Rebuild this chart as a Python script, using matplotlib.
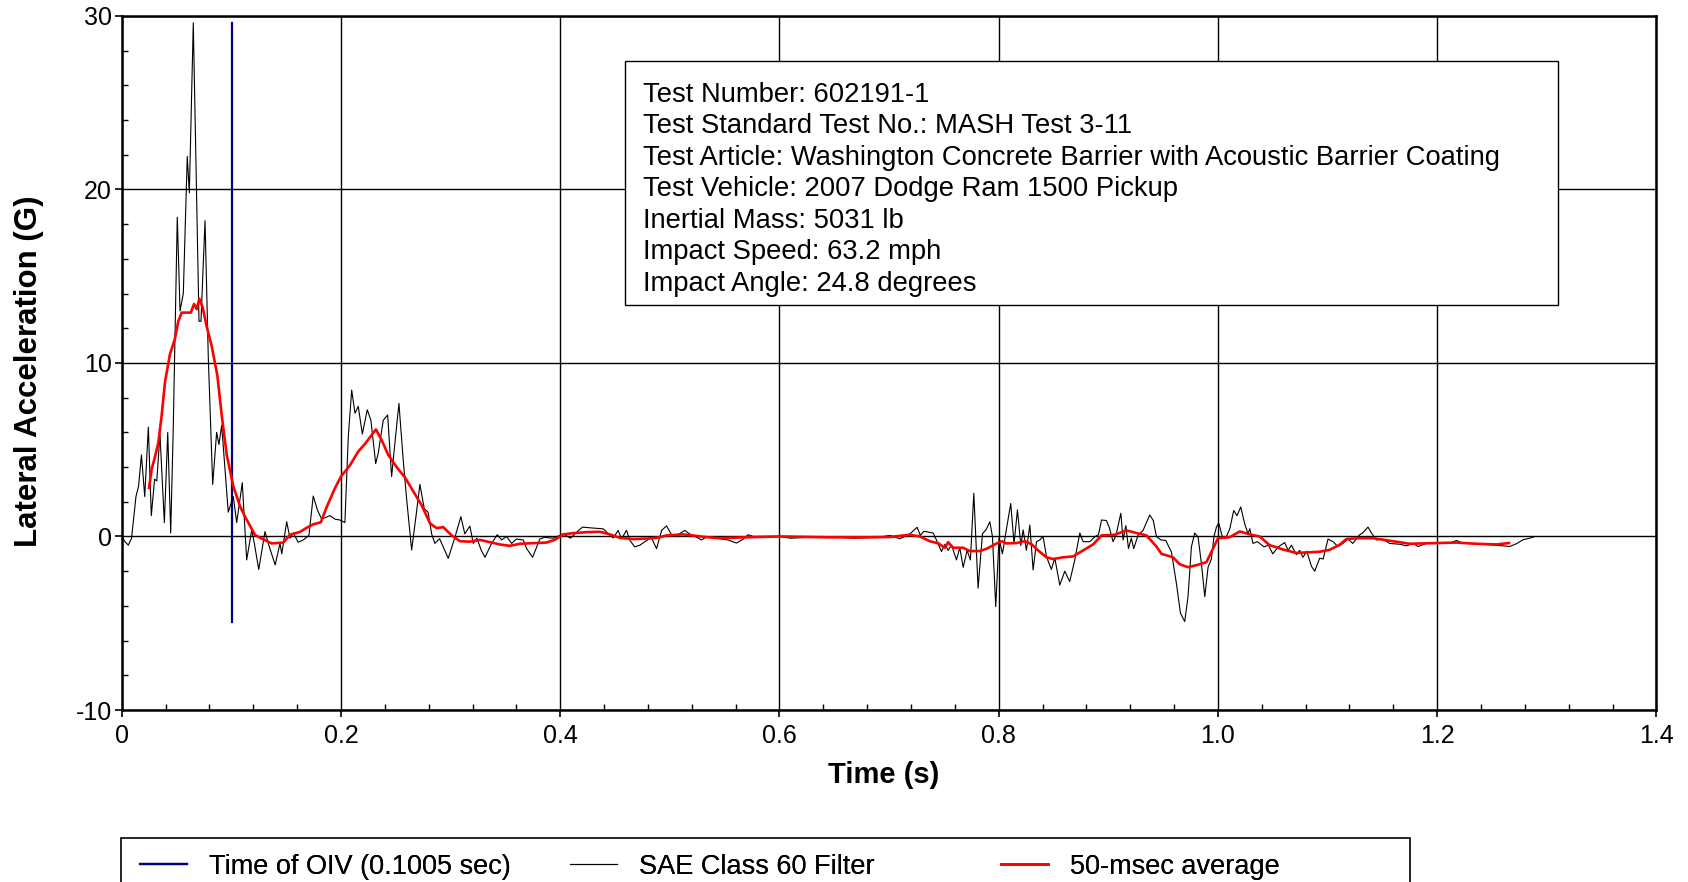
import matplotlib
matplotlib.use("Agg")
import matplotlib.pyplot as plt
from matplotlib.ticker import MultipleLocator
from matplotlib.patches import Rectangle

plt.rcParams['font.family'] = ['Liberation Sans', 'DejaVu Sans']
plt.rcParams['axes.unicode_minus'] = False

# SAE Class 60 filtered lateral acceleration (time s, G)
sae_t = [0.000, 0.003, 0.006, 0.009, 0.013, 0.0154, 0.018, 0.021, 0.0243, 0.027,
         0.030, 0.032, 0.0349, 0.0389, 0.042, 0.0447, 0.047, 0.0507, 0.0532, 0.0562,
         0.0598, 0.0617, 0.0653, 0.0705, 0.0723, 0.076, 0.079, 0.083, 0.0866, 0.0887,
         0.0912, 0.0972, 0.1018, 0.1049, 0.110, 0.114, 0.1186, 0.121, 0.125, 0.1307,
         0.1337, 0.140, 0.1444, 0.146, 0.1505, 0.1535, 0.1565, 0.161, 0.1656, 0.1708,
         0.1747, 0.1787, 0.1824, 0.190, 0.1945, 0.199, 0.2036, 0.2067, 0.2098, 0.2128,
         0.2158, 0.2195, 0.224, 0.2273, 0.2317, 0.234, 0.2386, 0.2426, 0.2462, 0.2492,
         0.2529, 0.2568, 0.260, 0.2645, 0.2684, 0.272, 0.276, 0.2795, 0.2827, 0.2857,
         0.290, 0.2979, 0.304, 0.3094, 0.313, 0.3176, 0.3207, 0.324, 0.328, 0.3314,
         0.3374, 0.3426, 0.3466, 0.351, 0.3557, 0.360, 0.3663, 0.3694, 0.3748, 0.3815,
         0.386, 0.3936, 0.4027, 0.4095, 0.415, 0.4204, 0.427, 0.4393, 0.444, 0.4484,
         0.4529, 0.4559, 0.4605, 0.4636, 0.468, 0.4727, 0.4788, 0.483, 0.4879, 0.4925,
         0.497, 0.5016, 0.506, 0.5137, 0.518, 0.5244, 0.5289, 0.534, 0.540, 0.5456,
         0.553, 0.5609, 0.567, 0.5714, 0.576, 0.600, 0.610, 0.640, 0.668, 0.690,
         0.7007, 0.7098, 0.719, 0.7256, 0.7285, 0.7317, 0.7402, 0.7432, 0.7478, 0.751,
         0.7539, 0.757, 0.7615, 0.7645, 0.7676, 0.7712, 0.7742, 0.7773, 0.7812, 0.7852,
         0.7889, 0.7919, 0.7943, 0.7973, 0.8003, 0.8034, 0.807, 0.811, 0.814, 0.8171,
         0.8202, 0.8223, 0.8253, 0.8284, 0.8314, 0.8345, 0.8375, 0.8405, 0.8436, 0.848,
         0.8512, 0.8557, 0.8603, 0.8648, 0.8694, 0.874, 0.877, 0.8831, 0.888, 0.891,
         0.8938, 0.8983, 0.901, 0.9043, 0.907, 0.9114, 0.9135, 0.916, 0.9184, 0.921,
         0.9232, 0.927, 0.9317, 0.9378, 0.941, 0.9439, 0.948, 0.9524, 0.9576, 0.9621,
         0.9658, 0.9697, 0.9727, 0.9758, 0.9788, 0.9819, 0.985, 0.988, 0.991, 0.994,
         0.9964, 0.9986, 1.0007, 1.004, 1.007, 1.0108, 1.0144, 1.0174, 1.0208, 1.0244,
         1.0275, 1.029, 1.032, 1.036, 1.042, 1.046, 1.050, 1.055, 1.0609, 1.064,
         1.067, 1.0716, 1.0746, 1.0776, 1.081, 1.0853, 1.0883, 1.0928, 1.096, 1.1004,
         1.105, 1.1095, 1.114, 1.1187, 1.123, 1.1293, 1.132, 1.1369, 1.140, 1.1445,
         1.150, 1.1567, 1.166, 1.1719, 1.178, 1.1825, 1.19, 1.1993, 1.211, 1.2175,
         1.224, 1.2357, 1.248, 1.260, 1.2661, 1.2722, 1.2783, 1.2843, 1.289]
sae_g = [0.0, -0.3, -0.5, -0.1, 2.3, 2.9, 4.7, 2.3, 6.3, 1.2,
         3.3, 3.2, 5.9, 0.8, 6.0, 0.2, 6.2, 18.4, 13.0, 14.0,
         21.9, 19.8, 29.6, 12.4, 12.4, 18.2, 10.3, 3.0, 6.0, 5.3,
         6.4, 1.4, 2.3, 0.8, 3.1, -1.35, 0.37, -0.4, -1.9, 0.28,
         -0.4, -1.64, -0.4, -1.0, 0.85, -0.1, 0.2, -0.33, -0.2, 0.06,
         2.33, 1.5, 1.0, 1.2, 1.0, 0.95, 0.8, 5.75, 8.44, 7.1,
         7.5, 5.9, 7.3, 6.7, 4.2, 4.8, 6.7, 7.0, 3.45, 5.37,
         7.67, 4.4, 2.1, -0.78, 1.14, 3.0, 1.6, 1.4, 0.15, -0.4,
         -0.13, -1.26, -0.04, 1.14, 0.15, 0.6, -0.4, -0.1, -0.8, -1.2,
         -0.4, 0.1, -0.2, 0.0, -0.4, -0.15, -0.2, -0.7, -1.2, -0.14,
         -0.05, -0.1, 0.15, -0.1, 0.25, 0.54, 0.5, 0.44, 0.15, -0.08,
         0.35, -0.13, 0.35, -0.23, -0.6, -0.5, -0.23, -0.05, -0.7, 0.35,
         0.61, 0.1, 0.05, 0.35, 0.15, -0.04, -0.2, 0.0, -0.04, -0.13,
         -0.2, -0.38, -0.15, 0.1, 0.0, 0.0, -0.1, 0.0, -0.1, -0.05,
         0.06, -0.13, 0.15, 0.53, 0.06, 0.3, 0.2, -0.2, -0.87, -0.45,
         -0.8, -0.5, -1.35, -0.64, -1.78, -0.8, -1.35, 2.49, -2.98, 0.15,
         0.44, 0.85, 0.0, -4.04, -0.1, -1.0, 0.4, 1.9, -0.42, 1.53,
         -0.52, 0.38, -0.8, 0.66, -1.93, -0.3, -0.2, 0.0, -1.16, -1.9,
         -1.25, -2.8, -2.0, -2.6, -1.35, 0.2, -0.3, -0.3, 0.0, 0.1,
         0.95, 0.92, 0.5, -0.3, 0.06, 1.34, -0.2, 0.63, -0.7, -0.1,
         -0.7, 0.06, 0.35, 1.24, 0.92, 0.0, -0.2, -0.23, -0.9, -2.7,
         -4.42, -4.9, -3.47, -0.6, 0.2, -0.04, -1.6, -3.47, -1.77, -1.3,
         0.0, 0.54, 0.77, 0.0, -0.1, 0.44, 1.5, 1.2, 1.7, 0.73,
         0.15, 0.45, -0.4, -0.3, -0.6, -0.5, -1.0, -0.6, -0.35, -0.8,
         -0.5, -1.05, -0.8, -1.2, -0.85, -1.72, -2.0, -1.25, -1.3, -0.15,
         -0.3, -0.58, -0.4, -0.15, -0.4, 0.1, 0.2, 0.54, 0.2, -0.2,
         -0.15, -0.4, -0.45, -0.54, -0.4, -0.58, -0.4, -0.35, -0.4, -0.23,
         -0.4, -0.42, -0.48, -0.54, -0.58, -0.42, -0.19, -0.1, 0.0]

# 50-msec moving average (time s, G)
avg_t = [0.0249, 0.0274, 0.030, 0.0334, 0.0365, 0.0395, 0.044, 0.0486, 0.0516, 0.0547,
         0.0593, 0.063, 0.066, 0.0684, 0.0708, 0.0739, 0.0775, 0.082, 0.0872, 0.0912,
         0.0958, 0.1018, 0.1079, 0.1125, 0.1216, 0.127, 0.1368, 0.1474, 0.1535, 0.1626,
         0.1687, 0.1747, 0.1817, 0.187, 0.1945, 0.200, 0.2082, 0.2158, 0.2219, 0.228,
         0.2319, 0.2371, 0.2431, 0.2508, 0.2584, 0.266, 0.2736, 0.2812, 0.2873, 0.2933,
         0.301, 0.3085, 0.3176, 0.327, 0.3359, 0.345, 0.354, 0.3632, 0.376, 0.3876,
         0.3952, 0.4027, 0.4118, 0.424, 0.436, 0.4438, 0.4544, 0.4666, 0.4788, 0.488,
         0.497, 0.5122, 0.522, 0.5335, 0.5456, 0.559, 0.573, 0.600, 0.646, 0.680,
         0.7007, 0.719, 0.728, 0.7371, 0.745, 0.7508, 0.7539, 0.7584, 0.7676, 0.7736,
         0.7828, 0.7889, 0.7964, 0.8025, 0.807, 0.8162, 0.8238, 0.830, 0.8359, 0.8436,
         0.8496, 0.8587, 0.8678, 0.877, 0.8861, 0.8938, 0.9059, 0.9165, 0.9256, 0.9348,
         0.9439, 0.9485, 0.959, 0.9651, 0.9727, 0.9819, 0.9895, 0.9955, 1.0001, 1.0108,
         1.0199, 1.029, 1.038, 1.0472, 1.0594, 1.0716, 1.0807, 1.0928, 1.1019, 1.111,
         1.1172, 1.1263, 1.1415, 1.1628, 1.1749, 1.1993, 1.2175, 1.2357, 1.254, 1.2655]
avg_g = [2.8, 3.9, 4.5, 5.4, 7.0, 8.9, 10.5, 11.4, 12.4, 12.9,
         12.9, 12.9, 13.4, 13.1, 13.7, 13.2, 12.1, 11.0, 9.3, 7.0,
         4.7, 2.9, 1.75, 1.14, 0.09, -0.1, -0.4, -0.35, 0.1, 0.26,
         0.5, 0.7, 0.82, 1.7, 2.78, 3.45, 4.1, 4.9, 5.33, 5.85,
         6.17, 5.56, 4.7, 4.0, 3.4, 2.6, 1.8, 0.76, 0.48, 0.54,
         0.06, -0.27, -0.3, -0.2, -0.33, -0.46, -0.54, -0.42, -0.38, -0.35,
         -0.19, 0.12, 0.19, 0.25, 0.27, 0.15, -0.08, -0.15, -0.12, -0.08,
         0.06, 0.12, 0.05, -0.04, -0.1, -0.07, -0.04, 0.0, -0.05, -0.05,
         -0.03, 0.1, 0.0, -0.27, -0.4, -0.65, -0.33, -0.65, -0.65, -0.84,
         -0.84, -0.71, -0.46, -0.27, -0.4, -0.38, -0.27, -0.45, -0.8, -1.2,
         -1.3, -1.2, -1.15, -0.8, -0.46, 0.06, 0.1, 0.35, 0.2, 0.06,
         -0.58, -1.0, -1.2, -1.6, -1.77, -1.63, -1.48, -0.7, -0.1, -0.04,
         0.29, 0.12, 0.0, -0.5, -0.75, -0.95, -0.92, -0.88, -0.77, -0.48,
         -0.15, -0.1, -0.1, -0.3, -0.42, -0.38, -0.35, -0.42, -0.46, -0.38]

oiv_time = 0.1005

info_lines = [
    "Test Number: 602191-1",
    "Test Standard Test No.: MASH Test 3-11",
    "Test Article: Washington Concrete Barrier with Acoustic Barrier Coating",
    "Test Vehicle: 2007 Dodge Ram 1500 Pickup",
    "Inertial Mass: 5031 lb",
    "Impact Speed: 63.2 mph",
    "Impact Angle: 24.8 degrees",
]

fig = plt.figure(figsize=(16.88, 8.82), dpi=100)
ax = fig.add_axes([0.0721, 0.195, 0.9092, 0.787])

l_oiv, = ax.plot([oiv_time, oiv_time], [min(sae_g), max(sae_g)], color='#000080', lw=1.6,
                 label='Time of OIV (0.1005 sec)', zorder=3)
l_sae, = ax.plot(sae_t, sae_g, color='black', lw=0.8, label='SAE Class 60 Filter', zorder=4)
l_avg, = ax.plot(avg_t, avg_g, color='red', lw=1.9, label='50-msec average', zorder=5)

ax.set_xlim(0, 1.4)
ax.set_ylim(-10, 30)
ax.xaxis.set_major_locator(MultipleLocator(0.2))
ax.xaxis.set_minor_locator(MultipleLocator(0.04))
ax.yaxis.set_major_locator(MultipleLocator(10))
ax.yaxis.set_minor_locator(MultipleLocator(2))
ax.set_xticks([0, 0.2, 0.4, 0.6, 0.8, 1.0, 1.2, 1.4])
ax.set_xticklabels(['0', '0.2', '0.4', '0.6', '0.8', '1.0', '1.2', '1.4'])
ax.grid(True, which='major', color='black', lw=1.0)
ax.set_axisbelow(True)
for s in ax.spines.values():
    s.set_linewidth(1.8)

ax.tick_params(which='major', direction='out', length=5, width=1.2, labelsize=18)
ax.tick_params(which='minor', direction='in', length=4, width=1.0)
ax.tick_params(axis='x', which='major', pad=5)
ax.tick_params(axis='y', which='major', pad=2)

ax.set_xlabel('Time (s)', fontsize=21, fontweight='bold')
ax.set_ylabel('Lateral Acceleration (G)', fontsize=22.5, fontweight='bold')
ax.xaxis.set_label_coords(0.4967, -0.0937)
ax.xaxis.label.set_va('center')
ax.yaxis.set_label_coords(-0.0604, 0.488)
ax.yaxis.label.set_va('center')

# info box
ax.add_patch(Rectangle((0.328, 0.5836), 0.608, 0.3514, transform=ax.transAxes,
                       facecolor='white', edgecolor='black', lw=1.0, zorder=6))
for i, line in enumerate(info_lines):
    ax.text(0.3397, 0.8865 - i * 0.0454, line, transform=ax.transAxes,
            fontsize=19.7, va='center', ha='left', zorder=7)

# legend frame (runs off the bottom of the figure) with three fixed-position entries
fig.add_artist(Rectangle((121 / 1688, -0.05), 1289 / 1688, (882 - 838) / 882 + 0.05,
                         transform=fig.transFigure, facecolor='white',
                         edgecolor='black', lw=1.2))
entry_x = [140, 570, 1001]
for handle, x in zip([l_oiv, l_sae, l_avg], entry_x):
    leg = fig.legend(handles=[handle], loc='center left',
                     bbox_to_anchor=(x / 1688, 1 - 866.7 / 882), fontsize=19.5,
                     frameon=False, borderpad=0.0, borderaxespad=0.0,
                     handlelength=1.75, handletextpad=0.8)
    fig.add_artist(leg)

fig.savefig('out.png', dpi=100)
